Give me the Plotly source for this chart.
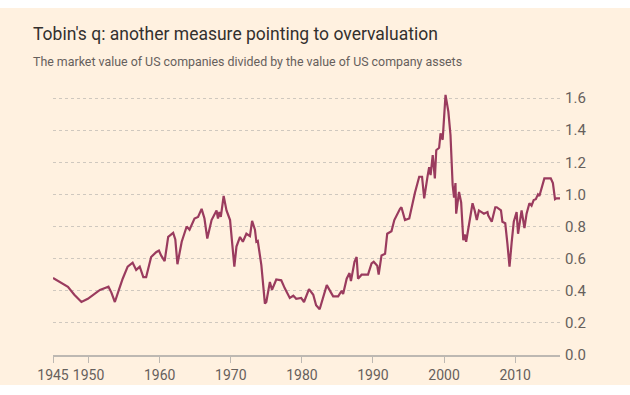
import plotly.graph_objects as go

years = [1945, 1946, 1947.1, 1948, 1949.0, 1949.9, 1950.9, 1951.6, 1952.5, 1952.8, 1953.2, 1953.7,
         1954.3, 1954.8, 1955.5, 1956.2, 1956.7, 1957.2, 1957.7, 1958.1, 1958.8, 1959.5, 1959.9,
         1960.2, 1960.7, 1961.2, 1961.9, 1962.2, 1962.5, 1963.1, 1963.8, 1964.2, 1964.9, 1965.4,
         1965.9, 1966.3, 1966.7, 1967.3, 1968.0, 1968.2, 1968.4, 1968.6, 1969.0, 1969.4, 1969.9,
         1970.5, 1970.8, 1971.3, 1971.7, 1972.2, 1972.7, 1973.0, 1973.4, 1973.6, 1973.8, 1974.3,
         1974.8, 1975.0, 1975.5, 1975.8, 1976.4, 1977.1, 1977.6, 1978.3, 1978.8, 1979.2, 1979.9,
         1980.3, 1981.0, 1981.6, 1982.0, 1982.5, 1983.5, 1984.4, 1985.1, 1985.6, 1985.8, 1986.3,
         1986.7, 1986.9, 1987.4, 1987.7, 1987.9, 1988.4, 1989.3, 1989.8, 1990.1, 1990.6, 1990.8,
         1991.2, 1991.7, 1992.0, 1992.6, 1993.0, 1993.8, 1994.0, 1994.5, 1995.1, 1995.9, 1996.5,
         1996.9, 1997.2, 1997.7, 1997.9, 1998.1, 1998.4, 1998.7, 1998.9, 1999.3, 1999.5, 1999.8,
         2000.2, 2000.6, 2000.9, 2001.2, 2001.4, 2001.6, 2001.7, 2002.1, 2002.4, 2002.7, 2002.9,
         2003.1, 2003.5, 2004.0, 2004.3, 2004.6, 2004.9, 2005.6, 2006.1, 2006.2, 2006.7, 2007.2,
         2007.4, 2008.0, 2008.2, 2008.6, 2008.9, 2009.2, 2009.5, 2009.8, 2010.2, 2010.4, 2010.9,
         2011.3, 2011.6, 2012.0, 2012.3, 2012.6, 2012.9, 2013.2, 2013.4, 2013.9, 2014.1, 2014.6,
         2015.0, 2015.3, 2015.5, 2015.6, 2015.8, 2016.3]

tobins_q = [0.48, 0.455, 0.425, 0.375, 0.33, 0.35, 0.385, 0.405, 0.42, 0.425, 0.39, 0.33,
            0.41, 0.475, 0.55, 0.575, 0.53, 0.55, 0.485, 0.485, 0.61, 0.64, 0.65,
            0.62, 0.585, 0.735, 0.76, 0.72, 0.565, 0.705, 0.80, 0.78, 0.85, 0.86,
            0.91, 0.85, 0.725, 0.84, 0.90, 0.85, 0.89, 0.86, 0.99, 0.90, 0.84,
            0.55, 0.675, 0.735, 0.705, 0.755, 0.74, 0.835, 0.78, 0.705, 0.71, 0.56,
            0.32, 0.33, 0.455, 0.405, 0.47, 0.465, 0.415, 0.355, 0.37, 0.35, 0.355,
            0.33, 0.41, 0.375, 0.31, 0.285, 0.435, 0.365, 0.365, 0.40, 0.38, 0.475,
            0.51, 0.46, 0.58, 0.61, 0.475, 0.50, 0.50, 0.57, 0.58, 0.555, 0.50,
            0.62, 0.63, 0.755, 0.77, 0.84, 0.91, 0.92, 0.84, 0.85, 1.01, 1.11,
            1.11, 0.975, 1.12, 1.17, 1.12, 1.245, 1.10, 1.275, 1.29, 1.38, 1.34,
            1.62, 1.515, 1.37, 1.06, 0.98, 1.07, 0.88, 1.015, 0.95, 0.715, 0.75,
            0.705, 0.82, 0.945, 0.90, 0.84, 0.90, 0.88, 0.89, 0.87, 0.83, 0.92,
            0.92, 0.90, 0.83, 0.82, 0.695, 0.55, 0.70, 0.83, 0.89, 0.755, 0.90,
            0.79, 0.88, 0.945, 0.93, 0.965, 0.97, 1.0, 0.99, 1.07, 1.10, 1.10,
            1.10, 1.07, 0.985, 0.97, 0.975, 0.975]

x_tickvals = [1945, 1950, 1960, 1970, 1980, 1990, 2000, 2010]
x_ticktext = ["1945", "1950", "1960", "1970", "1980", "1990", "2000", "2010"]
y_tickvals = [0.0, 0.2, 0.4, 0.6, 0.8, 1.0, 1.2, 1.4, 1.6]
y_ticktext = ["0.0", "0.2", "0.4", "0.6", "0.8", "1.0", "1.2", "1.4", "1.6"]

title = "Tobin's q: another measure pointing to overvaluation"
subtitle = "The market value of US companies divided by the value of US company assets"

PEACH = "#FFF1E0"
FONT = "Roboto, 'Open Sans', sans-serif"

fig = go.Figure()
fig.add_trace(go.Scatter(x=years, y=tobins_q, mode="lines",
                         line=dict(color="#9A3B5E", width=2.2), hoverinfo="skip"))

fig.update_layout(
    width=630, height=395,
    margin=dict(l=53, r=70, t=90, b=40),
    paper_bgcolor="white",
    plot_bgcolor="rgba(0,0,0,0)",
    showlegend=False,
    font=dict(family=FONT, color="#66605C"),
    xaxis=dict(range=[1945, 2016.3], tickvals=x_tickvals, ticktext=x_ticktext,
               showgrid=False, zeroline=False, showline=True, linecolor="#BDB8B2",
               linewidth=1.5, ticks="outside", ticklen=6, tickcolor="#BDB8B2",
               tickangle=0, automargin=False,
               tickfont=dict(size=14, color="#66605C")),
    yaxis=dict(range=[0, 1.65], side="right", tickvals=y_tickvals, ticktext=y_ticktext,
               showgrid=True, gridcolor="#CFC8BF", griddash="dot", gridwidth=1,
               zeroline=False, showline=False, ticks="", automargin=False,
               ticklabelstandoff=4,
               tickfont=dict(size=15, color="#66605C")),
    shapes=[dict(type="rect", xref="paper", yref="paper", x0=-0.2, x1=1.2,
                 y0=(355 - 385) / 265, y1=(355 - 8) / 265,
                 fillcolor=PEACH, line=dict(width=0), layer="below")],
    annotations=[
        dict(text=title, xref="paper", yref="paper", x=(31 - 53) / 507, y=(355 - 34) / 265,
             xanchor="left", yanchor="middle", showarrow=False,
             font=dict(family=FONT, size=17.5, color="#33302E")),
        dict(text=subtitle, xref="paper", yref="paper", x=(31 - 53) / 507, y=(355 - 61) / 265,
             xanchor="left", yanchor="middle", showarrow=False,
             font=dict(family=FONT, size=12.4, color="#66605C")),
    ],
)

fig.write_html("out.html", config={"displayModeBar": False},
               post_script="document.body.style.margin='0';document.body.style.padding='0';")
